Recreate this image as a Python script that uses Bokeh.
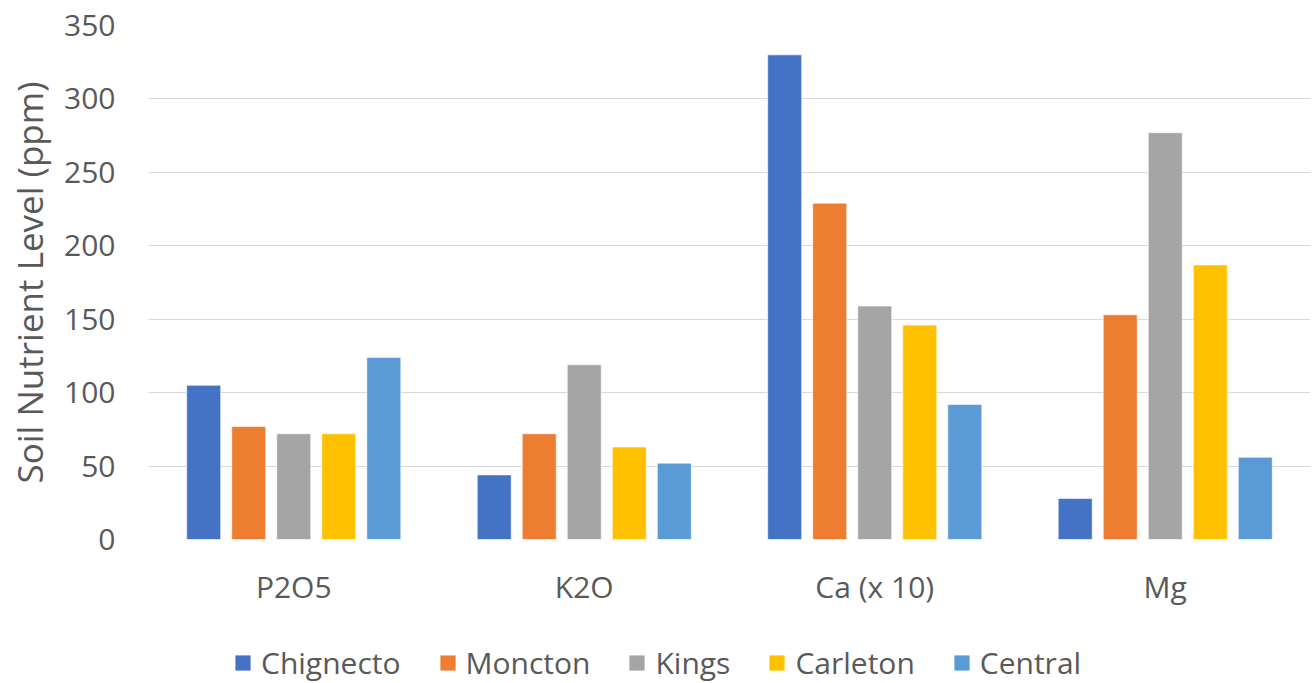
from bokeh.plotting import figure
from bokeh.models import ColumnDataSource, Legend, LegendItem, FactorRange, FixedTicker
from bokeh.transform import dodge
from bokeh.layouts import column
from bokeh.embed import file_html
from bokeh.resources import INLINE

categories = ["P2O5", "K2O", "Ca (x 10)", "Mg"]
series = ["Chignecto", "Moncton", "Kings", "Carleton", "Central"]
chignecto = [105, 44, 330, 28]
moncton = [77, 72, 229, 153]
kings = [72, 119, 159, 277]
carleton = [72, 63, 146, 187]
central = [124, 52, 92, 56]
y_ticks = [0, 50, 100, 150, 200, 250, 300, 350]
colors = ["#4472C4", "#ED7D31", "#A5A5A5", "#FFC000", "#5B9BD5"]

src = ColumnDataSource(dict(cat=categories, Chignecto=chignecto, Moncton=moncton,
                            Kings=kings, Carleton=carleton, Central=central))

FONT = "Open Sans"
GREY = "#595959"
FS = "30px"

p = figure(width=1315, height=609, x_range=FactorRange(*categories, range_padding=0),
           y_range=(0, 350), output_backend="svg", toolbar_location=None,
           min_border_left=148, min_border_right=5, min_border_top=25, min_border_bottom=68)
p.outline_line_color = None

offsets = [-0.31, -0.155, 0.0, 0.155, 0.31]
for name, off, col in zip(series, offsets, colors):
    p.vbar(x=dodge("cat", off, range=p.x_range), top=name, width=0.117, bottom=0,
           source=src, fill_color=col, line_color="white", line_alpha=0.6, line_width=1)

p.xgrid.grid_line_color = None
p.ygrid.grid_line_color = "#D9D9D9"
p.ygrid.grid_line_width = 1.2
p.yaxis.ticker = FixedTicker(ticks=y_ticks)

for ax in (p.xaxis[0], p.yaxis[0]):
    ax.axis_line_color = None
    ax.major_tick_line_color = None
    ax.minor_tick_line_color = None
    ax.major_tick_out = 0
    ax.major_tick_in = 0
    ax.major_label_text_font = FONT
    ax.major_label_text_font_size = FS
    ax.major_label_text_color = GREY

p.yaxis.major_label_standoff = 33
p.xaxis.major_label_standoff = 26
p.yaxis.axis_label = "Soil Nutrient Level (ppm)"
p.yaxis.axis_label_text_font = FONT
p.yaxis.axis_label_text_font_size = "35px"
p.yaxis.axis_label_text_font_style = "normal"
p.yaxis.axis_label_text_color = GREY
p.yaxis.axis_label_standoff = 8

# legend strip
lg = figure(width=1315, height=74, x_range=(0, 1), y_range=(1000, 1001),
            output_backend="svg", toolbar_location=None,
            min_border_left=0, min_border_right=0, min_border_top=0, min_border_bottom=0)
lg.xaxis.visible = False
lg.yaxis.visible = False
lg.grid.visible = False
lg.outline_line_color = None
items = []
for name, col in zip(series, colors):
    r = lg.vbar(x=0.5, top=[0], width=0.1, fill_color=col, line_color=None)
    items.append(LegendItem(label=name, renderers=[r]))

legend = Legend(items=items, orientation="horizontal", location=(85, 0),
                label_text_font=FONT, label_text_font_size=FS, label_text_color=GREY,
                glyph_width=19, glyph_height=19, label_standoff=9, spacing=37,
                border_line_color=None, background_fill_alpha=0, margin=0, padding=0)
lg.add_layout(legend, "center")

open("out.html", "w").write(file_html(column(p, lg, spacing=0), INLINE))
